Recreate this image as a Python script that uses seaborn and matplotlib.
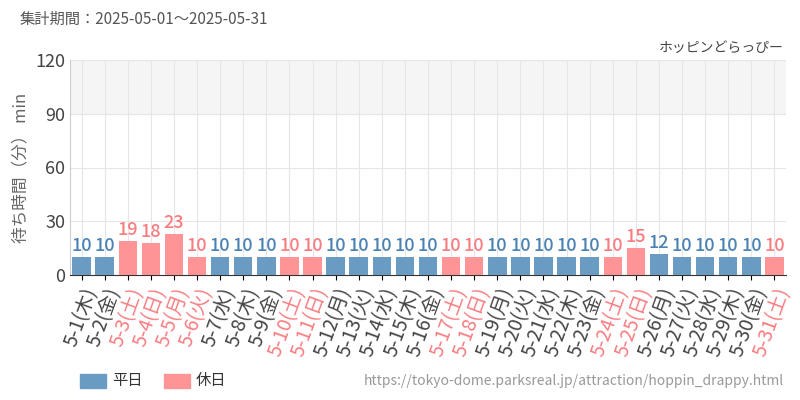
import matplotlib
matplotlib.use("Agg")
import matplotlib.pyplot as plt
import seaborn as sns
import pandas as pd

plt.rcParams["font.family"] = ["Noto Sans CJK JP"]

dates = [f"5-{d}" for d in range(1, 32)]
weekdays = ["木","金","土","日","月","火","水","木","金","土","日","月","火","水","木","金","土","日","月","火","水","木","金","土","日","月","火","水","木","金","土"]
values = [10,10,19,18,23,10,10,10,10,10,10,10,10,10,10,10,10,10,10,10,10,10,10,10,15,12,10,10,10,10,10]
holiday = [False,False,True,True,True,True,False,False,False,True,True,False,False,False,False,False,True,True,False,False,False,False,False,True,True,False,False,False,False,False,True]

BLUE = "#6a9bc3"; RED = "#ff9496"; BLUET = "#4a82b4"; REDT = "#f87c80"
df = pd.DataFrame({"label": [f"{d}({w})" for d, w in zip(dates, weekdays)],
                   "value": values,
                   "kind": ["休日" if h else "平日" for h in holiday]})

fig = plt.figure(figsize=(8, 4), dpi=100)
ax = fig.add_axes([0.0875, 0.3125, 0.895, 0.5375])
ax.axhspan(90, 120, color="#f5f5f5", zorder=0)
sns.barplot(data=df, x="label", y="value", hue="kind", palette={"平日": BLUE, "休日": RED},
            dodge=False, width=0.8, ax=ax, legend=False, zorder=3, saturation=1)
ax.set_ylim(0, 120)
ax.set_xlim(-0.5, 30.5)
ax.set_yticks([0, 30, 60, 90, 120])
ax.tick_params(axis="y", labelsize=13, length=0, colors="#444444")
ax.grid(True, color="#e6e6e6", lw=0.8, zorder=0)
ax.set_axisbelow(True)
for s in ["top", "right"]:
    ax.spines[s].set_visible(False)
ax.spines["left"].set_color("#cccccc")
ax.spines["bottom"].set_color("#333333")
ax.set_xlabel("")
ax.set_ylabel("待ち時間（分） min", fontsize=12, color="#666666")
ax.set_xticks(range(31))
ax.set_xticklabels(df["label"], rotation=70, ha="right", rotation_mode="anchor", fontsize=14)
for i, (t, h) in enumerate(zip(ax.get_xticklabels(), holiday)):
    t.set_color(REDT if h else "#444444")
for i, (v, h) in enumerate(zip(values, holiday)):
    ax.text(i, v + 1, str(v), ha="center", va="bottom", fontsize=13,
            color=REDT if h else BLUET, fontweight="medium")
fig.text(0.025, 0.94, "集計期間：2025-05-01～2025-05-31", fontsize=11, color="#555555")
fig.text(0.98, 0.87, "ホッピンどらっぴー", fontsize=10, color="#444444", ha="right")
fig.patches.append(plt.Rectangle((0.1, 0.03), 0.033, 0.035, color=BLUE, transform=fig.transFigure))
fig.text(0.14, 0.048, "平日", fontsize=11, color="#333333", va="center")
fig.patches.append(plt.Rectangle((0.205, 0.03), 0.033, 0.035, color=RED, transform=fig.transFigure))
fig.text(0.245, 0.048, "休日", fontsize=11, color="#333333", va="center")
fig.text(0.98, 0.048, "https://tokyo-dome.parksreal.jp/attraction/hoppin_drappy.html",
         fontsize=10, color="#999999", ha="right", va="center")
fig.savefig("out.png", dpi=100)
